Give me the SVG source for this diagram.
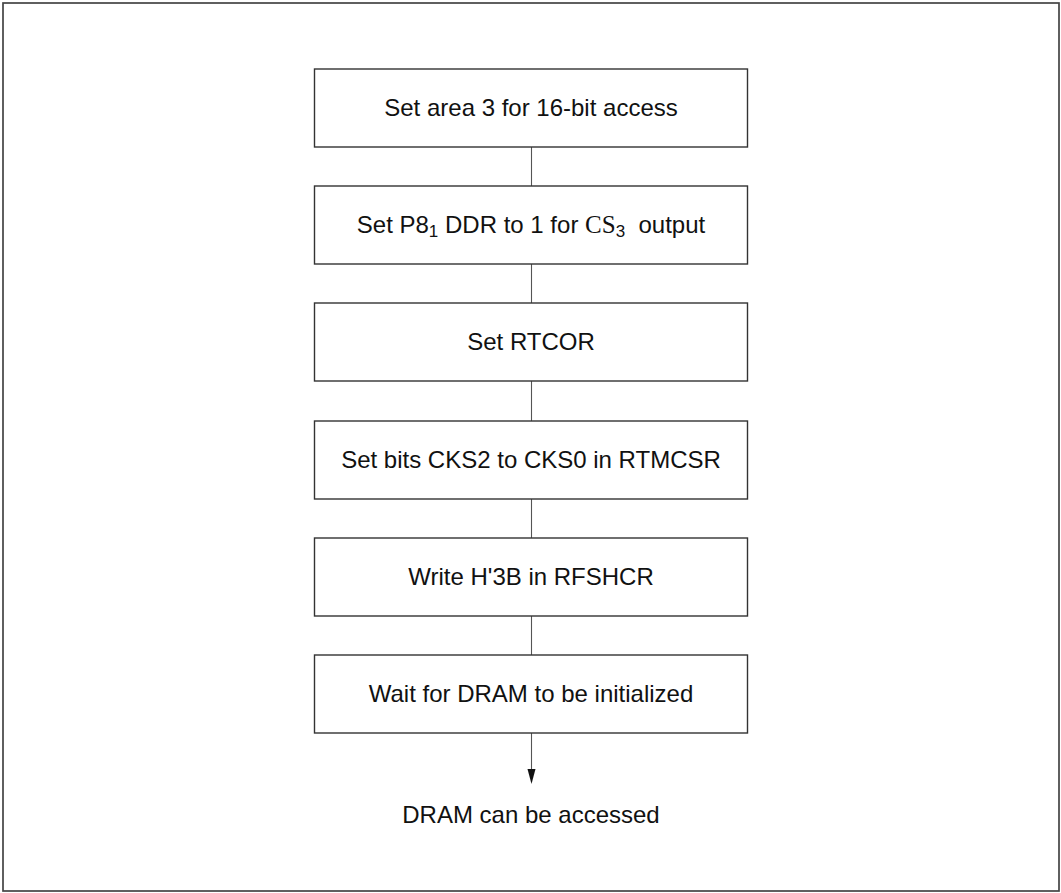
<svg xmlns="http://www.w3.org/2000/svg" width="1061" height="893" viewBox="0 0 1061 893">
<style>
.box{fill:#fff;stroke:#333;stroke-width:1.4}
.t{font-family:"Liberation Sans",Arial,sans-serif;font-size:24px;fill:#111;text-anchor:middle}
.conn{stroke:#555;stroke-width:1.1;fill:none}
.sub{font-size:17px}
.serif{font-family:"Liberation Serif","Times New Roman",serif;font-size:25px}
</style>
<defs>
<marker id="arr" markerWidth="8" markerHeight="14" refX="4" refY="13" orient="auto-start-reverse" markerUnits="userSpaceOnUse" viewBox="0 0 8 14">
<path d="M0,0 L8,0 L4,14 Z" fill="#111" transform="rotate(0)"/>
</marker>
</defs>
<rect x="3" y="3" width="1056" height="888" fill="#fff" stroke="#444" stroke-width="1.7"/>
<g id="connectors">
<line class="conn" x1="531.5" y1="147" x2="531.5" y2="186"/>
<line class="conn" x1="531.5" y1="264" x2="531.5" y2="303"/>
<line class="conn" x1="531.5" y1="381" x2="531.5" y2="421"/>
<line class="conn" x1="531.5" y1="499" x2="531.5" y2="538"/>
<line class="conn" x1="531.5" y1="616" x2="531.5" y2="655"/>
<line class="conn" x1="531.5" y1="733" x2="531.5" y2="770"/>
<path d="M527.5,769 L535.5,769 L531.5,784 Z" fill="#111"/>
</g>
<g id="n1"><rect class="box" x="314.5" y="69" width="433" height="78"/><text class="t" x="531" y="116">Set area 3 for 16-bit access</text></g>
<g id="n2"><rect class="box" x="314.5" y="186" width="433" height="78"/><text class="t" x="531" y="233" xml:space="preserve">Set P8<tspan class="sub" dy="4">1</tspan><tspan dy="-4"> DDR to 1 for </tspan><tspan class="serif">CS</tspan><tspan class="sub" dy="4">3</tspan><tspan dy="-4">  output</tspan></text></g>
<g id="n3"><rect class="box" x="314.5" y="303" width="433" height="78"/><text class="t" x="531" y="350">Set RTCOR</text></g>
<g id="n4"><rect class="box" x="314.5" y="421" width="433" height="78"/><text class="t" x="531" y="468">Set bits CKS2 to CKS0 in RTMCSR</text></g>
<g id="n5"><rect class="box" x="314.5" y="538" width="433" height="78"/><text class="t" x="531" y="585">Write H'3B in RFSHCR</text></g>
<g id="n6"><rect class="box" x="314.5" y="655" width="433" height="78"/><text class="t" x="531" y="702">Wait for DRAM to be initialized</text></g>
<g id="end"><text class="t" x="531" y="823">DRAM can be accessed</text></g>
</svg>
